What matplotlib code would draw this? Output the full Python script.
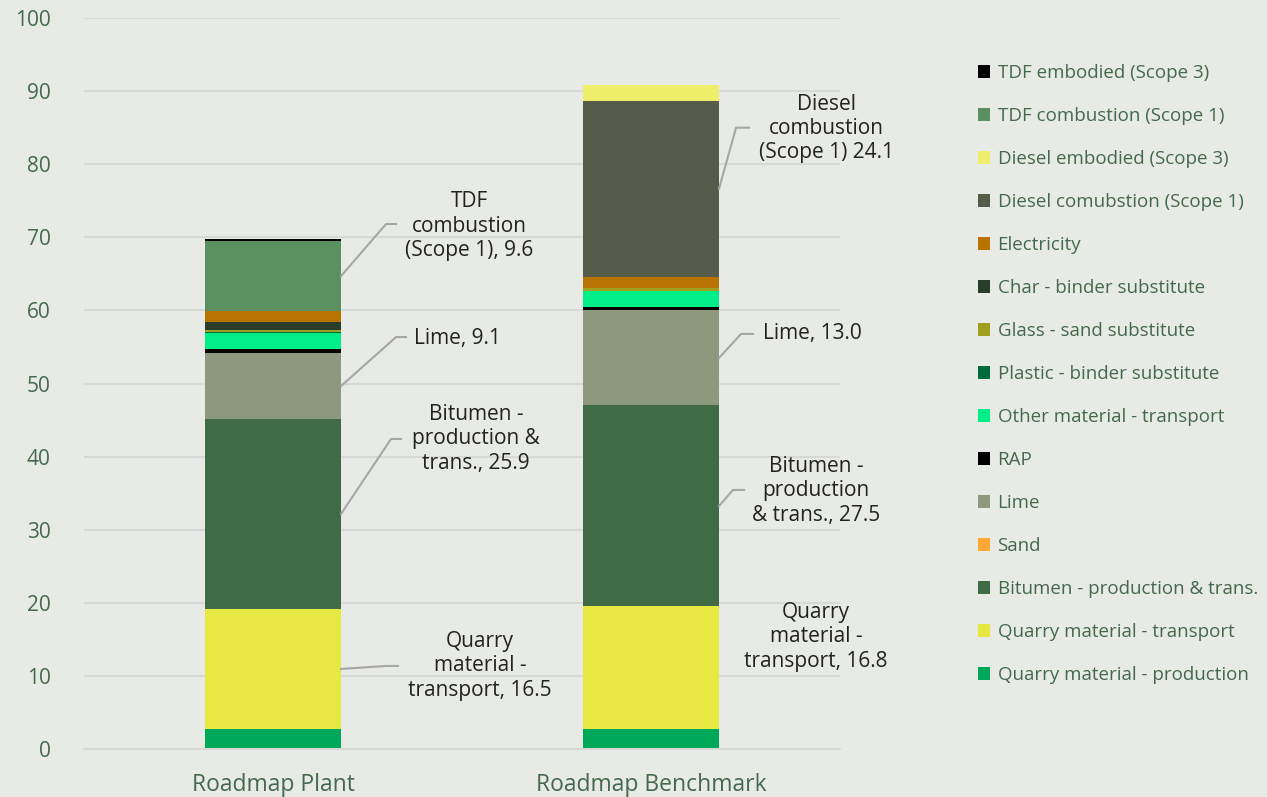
import numpy as np
import matplotlib
matplotlib.use('Agg')
import matplotlib.pyplot as plt
from matplotlib.patches import Patch

# 도로 포장 탄소 배출 구성 (Roadmap Plant vs Benchmark)
categories = ['Roadmap Plant', 'Roadmap Benchmark']

series_names = ['Quarry material - production', 'Quarry material - transport',
                'Bitumen - production & trans.', 'Sand', 'Lime', 'RAP',
                'Other material - transport', 'Plastic - binder substitute',
                'Glass - sand substitute', 'Char - binder substitute', 'Electricity',
                'Diesel comubstion (Scope 1)', 'Diesel embodied (Scope 3)',
                'TDF combustion (Scope 1)', 'TDF embodied (Scope 3)']

plant_vals = [2.7, 16.5, 25.9, 0.0, 9.1, 0.5, 2.2, 0.1, 0.3, 1.1, 1.5, 0.0, 0.0, 9.6, 0.3]
bench_vals = [2.7, 16.8, 27.5, 0.0, 13.0, 0.5, 2.2, 0.0, 0.4, 0.0, 1.5, 24.1, 2.2, 0.0, 0.0]

colors = ['#00A85A', '#E8E842', '#3F6B45', '#FFA833', '#8D987C', '#000000',
          '#00EE88', '#006B3A', '#A0A020', '#283D2A', '#B87200',
          '#555D4A', '#EEEE6A', '#5A9060', '#000000']

# 라벨: (막대, 시리즈, 텍스트, 꺾임점 dx/dy, 끝점 dx/dy, 텍스트 dx/dy) - 픽셀 오프셋
labels = [
    (0, 13, 'TDF\ncombustion\n(Scope 1), 9.6', (45, 52), (55, 52), (128, 50)),
    (0, 4, 'Lime, 9.1', (55, 49), (65, 49), (116, 48)),
    (0, 2, 'Bitumen -\nproduction &\ntrans., 25.9', (50, 75), (60, 75), (135, 75)),
    (0, 1, 'Quarry\nmaterial -\ntransport, 16.5', (45, 3), (57, 3), (139, 3)),
    (1, 11, 'Diesel\ncombustion\n(Scope 1) 24.1', (17, 61), (30, 61), (107, 60)),
    (1, 4, 'Lime, 13.0', (22, 24), (34, 24), (93, 24)),
    (1, 2, 'Bitumen -\nproduction\n& trans., 27.5', (14, 16), (25, 16), (97, 15)),
    (1, 1, 'Quarry\nmaterial -\ntransport, 16.8', None, None, (97, 31)),
]

bg = '#E8EAE6'
txt_green = '#44694B'
plt.rcParams['font.family'] = ['Open Sans', 'DejaVu Sans']

fig = plt.figure(figsize=(12.67, 7.97), dpi=100, facecolor=bg)
ax = fig.add_axes([84 / 1267, 48 / 797, (840 - 84) / 1267, (749 - 18) / 797])
ax.set_facecolor(bg)

vals = np.array([plant_vals, bench_vals])
x = np.arange(len(categories))
width = 0.36
bottom = np.zeros(len(categories))
for k, name in enumerate(series_names):
    ax.bar(x, vals[:, k], width, bottom=bottom, color=colors[k], label=name, linewidth=0)
    bottom += vals[:, k]

ax.set_xlim(-0.5, 1.5)
ax.set_ylim(0, 100)
ax.set_yticks(range(0, 101, 10))
ax.set_xticks(x)
ax.set_xticklabels(categories)
ax.grid(axis='y', color='#D6D9D5', linewidth=1.5)
ax.set_axisbelow(True)
for s in ['top', 'right', 'left']:
    ax.spines[s].set_visible(False)
ax.spines['bottom'].set_color('#D6D9D5')
ax.spines['bottom'].set_linewidth(1.5)
ax.tick_params(axis='both', length=0, colors=txt_green)
ax.tick_params(axis='y', pad=24, labelsize=15)
ax.tick_params(axis='x', pad=17, labelsize=16.5)

# 주석 (지시선 포함)
cum = np.cumsum(vals, axis=1)
inv = ax.transData.inverted()
for bi, si, text, elbow, end, toff in labels:
    ymid = cum[bi, si] - vals[bi, si] / 2
    ax_px, ay_px = ax.transData.transform((x[bi] + width / 2, ymid))
    if elbow is not None:
        pts = [(ax_px, ay_px), (ax_px + elbow[0], ay_px + elbow[1]), (ax_px + end[0], ay_px + end[1])]
        pts = inv.transform(pts)
        ax.plot(pts[:, 0], pts[:, 1], color='#A6A6A6', linewidth=1.5, clip_on=False)
    tx, ty = inv.transform((ax_px + toff[0], ay_px + toff[1]))
    ax.text(tx, ty, text, ha='center', va='center', fontsize=15, color='#222222',
            family=['Open Sans', 'DejaVu Sans'], linespacing=1.2, multialignment='center')

handles = [Patch(facecolor=c, edgecolor='none') for c in colors][::-1]
leg = fig.legend(handles, series_names[::-1], loc='upper left',
                 bbox_to_anchor=(961 / 1267, (797 - 47) / 797),
                 frameon=False, fontsize=13.5, handlelength=0.65, handleheight=0.65,
                 handletextpad=0.4, labelspacing=1.335, labelcolor=txt_green)

fig.savefig('out.png', dpi=100, facecolor=bg)
